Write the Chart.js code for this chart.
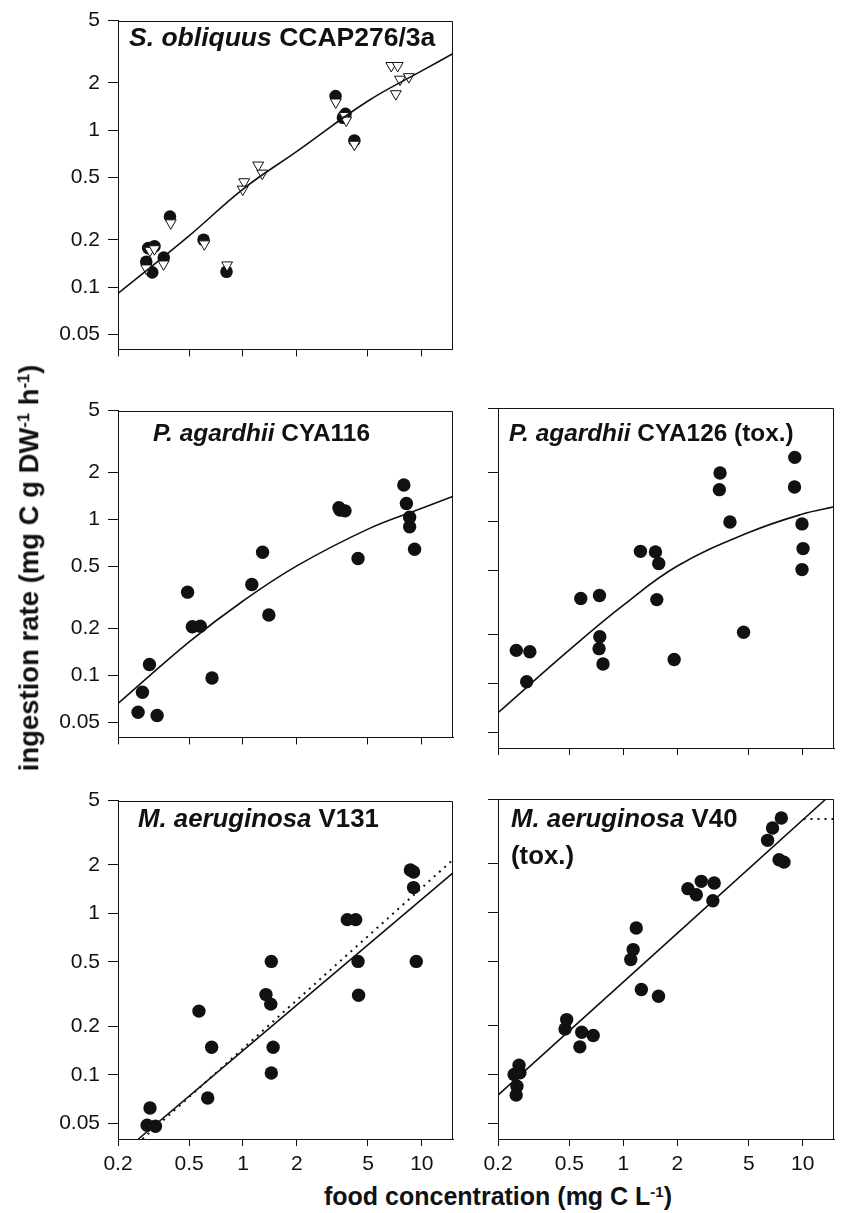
<!DOCTYPE html>
<html>
<head>
<meta charset="utf-8">
<script src="https://cdn.jsdelivr.net/npm/chart.js@4.4.1/dist/chart.umd.min.js"></script>
<style>
body{margin:0;background:#fff;width:841px;height:1213px;position:relative;overflow:hidden;font-family:'Liberation Sans',Arial,Helvetica,sans-serif;color:#111;}
.panel{position:absolute;}
.ttl{position:absolute;font-weight:bold;font-size:25px;line-height:1;white-space:nowrap;}
.axt{position:absolute;font-weight:bold;font-size:25px;line-height:1;white-space:nowrap;}
sup{font-size:0.6em;line-height:0;vertical-align:0.55em;}
</style>
</head>
<body>

<div class="panel" style="left:0px;top:0px"><canvas id="cSob" width="460" height="370"></canvas></div>
<div class="panel" style="left:0px;top:390px"><canvas id="cP116" width="460" height="368"></canvas></div>
<div class="panel" style="left:460px;top:390px"><canvas id="cP126" width="381" height="368"></canvas></div>
<div class="panel" style="left:0px;top:780px"><canvas id="cM131" width="460" height="400"></canvas></div>
<div class="panel" style="left:460px;top:780px"><canvas id="cM40" width="381" height="400"></canvas></div>

<div class="ttl" style="left:129px;top:24px;font-size:26.5px"><i>S. obliquus</i> CCAP276/3a</div>
<div class="ttl" style="left:153px;top:421px;font-size:24.4px"><i>P. agardhii</i> CYA116</div>
<div class="ttl" style="left:509px;top:421px;font-size:24.4px"><i>P. agardhii</i> CYA126 (tox.)</div>
<div class="ttl" style="left:138px;top:806px;font-size:25.8px"><i>M. aeruginosa</i> V131</div>
<div class="ttl" style="left:511px;top:806px;font-size:25.8px"><i>M. aeruginosa</i> V40</div>
<div class="ttl" style="left:511px;top:843px;font-size:25.8px">(tox.)</div>

<div class="axt" style="left:498px;top:1184px;transform:translateX(-50%)">food concentration (mg C L<sup>-1</sup>)</div>
<div class="axt" style="left:29px;top:568px;font-size:27.5px;transform:translate(-50%,-50%) rotate(-90deg)">ingestion rate (mg C g DW<sup>-1</sup> h<sup>-1</sup>)</div>

<script>
// axis ticks (log-log)
const xTicks = [0.2, 0.5, 1, 2, 5, 10];
const yTicks = [0.05, 0.1, 0.2, 0.5, 1, 2, 5];

// S. obliquus CCAP276/3a - circles and triangles
const sobCircX = [0.288, 0.311, 0.295, 0.320, 0.361, 0.391, 0.603, 0.811, 3.31, 3.76, 3.64, 4.22];
const sobCircY = [0.145, 0.124, 0.177, 0.182, 0.154, 0.281, 0.200, 0.125, 1.65, 1.27, 1.20, 0.86];
const sobTriX = [0.288, 0.302, 0.320, 0.360, 0.395, 0.609, 0.817, 1.018, 1.0, 1.22, 1.287, 3.32, 3.72, 3.80, 4.22, 6.79, 7.38, 7.20, 7.60, 8.52];
const sobTriY = [0.132, 0.171, 0.175, 0.140, 0.256, 0.188, 0.138, 0.468, 0.42, 0.598, 0.531, 1.51, 1.24, 1.157, 0.812, 2.58, 2.58, 1.705, 2.11, 2.19];
const sobFitX = [0.2, 0.5, 1, 2, 5, 10, 15];
const sobFitY = [0.091, 0.212, 0.42, 0.73, 1.53, 2.38, 3.07];

// P. agardhii CYA116
const p116X = [0.259, 0.274, 0.300, 0.331, 0.49, 0.521, 0.577, 0.671, 1.12, 1.287, 1.395, 3.44, 3.49, 3.72, 4.40, 7.93, 8.20, 8.55, 8.55, 9.11];
const p116Y = [0.058, 0.078, 0.1175, 0.0553, 0.342, 0.205, 0.207, 0.0962, 0.383, 0.617, 0.244, 1.19, 1.15, 1.137, 0.562, 1.667, 1.267, 1.035, 0.898, 0.644];
const p116FitX = [0.2, 0.5, 1, 2, 5, 10, 15];
const p116FitY = [0.066, 0.164, 0.30, 0.504, 0.868, 1.18, 1.41];

// P. agardhii CYA126 (tox.)
const p126X = [0.253, 0.301, 0.289, 0.579, 0.736, 0.739, 0.732, 0.77, 1.245, 1.51, 1.575, 1.536, 1.92, 3.46, 3.43, 3.93, 4.68, 9.03, 9.0, 9.91, 10.04, 9.91];
const p126Y = [0.160, 0.157, 0.1025, 0.334, 0.349, 0.194, 0.164, 0.132, 0.653, 0.648, 0.549, 0.329, 0.1406, 1.987, 1.568, 0.99, 0.207, 2.48, 1.63, 0.964, 0.679, 0.504];
const p126FitX = [0.2, 0.5, 1, 2, 5, 10, 15];
const p126FitY = [0.066, 0.161, 0.304, 0.530, 0.853, 1.11, 1.23];

// M. aeruginosa V131
const m131X = [0.302, 0.291, 0.324, 0.567, 0.668, 0.635, 1.344, 1.43, 1.44, 1.474, 1.44, 3.83, 4.27, 4.40, 4.43, 8.63, 8.99, 8.99, 9.31];
const m131Y = [0.0623, 0.0487, 0.048, 0.248, 0.148, 0.0718, 0.314, 0.274, 0.504, 0.148, 0.1025, 0.915, 0.915, 0.504, 0.311, 1.859, 1.806, 1.445, 0.504];
const m131FitX = [0.26, 15];
const m131FitY = [0.04, 1.79];
const m131DotX = [0.274, 15];
const m131DotY = [0.04, 2.16];

// M. aeruginosa V40 (tox.)
const m40X = [0.2526, 0.255, 0.246, 0.265, 0.262, 0.483, 0.473, 0.586, 0.572, 0.679, 1.18, 1.134, 1.10, 1.26, 1.57, 2.29, 2.55, 2.72, 3.21, 3.155, 6.37, 6.79, 7.60, 7.38, 7.86];
const m40Y = [0.0746, 0.0847, 0.100, 0.1025, 0.114, 0.218, 0.191, 0.182, 0.148, 0.174, 0.80, 0.589, 0.511, 0.334, 0.304, 1.40, 1.285, 1.553, 1.517, 1.18, 2.78, 3.31, 3.82, 2.11, 2.04];
const m40FitX = [0.2, 13.47];
const m40FitY = [0.0746, 5.0];
const m40DotX = [10.1, 15];
const m40DotY = [3.76, 3.76];

Chart.defaults.font.family = "'Liberation Sans', Arial, Helvetica, sans-serif";
Chart.defaults.color = '#111';

const pts = (xs, ys) => xs.map((x, i) => ({x: x, y: ys[i]}));
const dots = (xs, ys, r) => ({data: pts(xs, ys), showLine: false, pointRadius: r, pointBackgroundColor: '#111', pointBorderWidth: 0});
const tris = (xs, ys) => ({data: pts(xs, ys), showLine: false, pointStyle: 'triangle', pointRotation: 180, pointRadius: 6.3,
    pointBackgroundColor: '#fff', pointBorderColor: '#111', pointBorderWidth: 1});
const line = (xs, ys) => ({data: pts(xs, ys), showLine: true, borderColor: '#111', borderWidth: 1.6, pointRadius: 0, tension: 0.4});
const dotted = (xs, ys) => ({data: pts(xs, ys), showLine: true, borderColor: '#111', borderWidth: 2, borderDash: [2, 5], pointRadius: 0});

// box around the plot area (top + right sides)
const frame = {
    id: 'frame',
    afterDraw(chart){
        const a = chart.chartArea, ctx = chart.ctx;
        ctx.save();
        ctx.strokeStyle = '#111';
        ctx.lineWidth = 1;
        ctx.beginPath();
        ctx.moveTo(Math.round(a.left), Math.round(a.top) + 0.5);
        ctx.lineTo(Math.round(a.right) - 0.5, Math.round(a.top) + 0.5);
        ctx.lineTo(Math.round(a.right) - 0.5, Math.round(a.bottom));
        ctx.stroke();
        ctx.restore();
    }
};

function panel(id, datasets, cfg){
    return new Chart(document.getElementById(id), {
        type: 'scatter',
        data: {datasets: datasets},
        options: {
            responsive: false, animation: false, devicePixelRatio: 1,
            layout: {padding: {top: cfg.top, left: 0, right: 1, bottom: 0}},
            plugins: {legend: {display: false}, tooltip: {enabled: false}},
            scales: {
                x: {
                    type: 'logarithmic', min: 0.2, max: 15,
                    afterBuildTicks: s => { s.ticks = xTicks.map(v => ({value: v})); },
                    afterFit: s => { s.height = cfg.xh; },
                    ticks: {display: cfg.xLab, autoSkip: false, maxRotation: 0, padding: 6, font: {size: 21}, callback: v => String(v)},
                    grid: {drawOnChartArea: false, tickLength: 7, color: '#111'},
                    border: {color: '#111', width: 1}
                },
                y: {
                    type: 'logarithmic', min: 0.04, max: 5,
                    afterBuildTicks: s => { s.ticks = yTicks.map(v => ({value: v})); },
                    afterFit: s => { s.width = cfg.yw; },
                    ticks: {display: cfg.yLab, padding: 8, font: {size: 21}, callback: v => String(v)},
                    grid: {drawOnChartArea: false, tickLength: 10, color: '#111'},
                    border: {color: '#111', width: 1}
                }
            }
        },
        plugins: [frame]
    });
}

panel('cSob', [line(sobFitX, sobFitY), tris(sobTriX, sobTriY), dots(sobCircX, sobCircY, 6.3)],
    {top: 17, xh: 10, yw: 118, xLab: false, yLab: true});
panel('cP116', [line(p116FitX, p116FitY), dots(p116X, p116Y, 6.7)],
    {top: 18, xh: 10, yw: 118, xLab: false, yLab: true});
panel('cP126', [line(p126FitX, p126FitY), dots(p126X, p126Y, 6.7)],
    {top: 18, xh: 10, yw: 38, xLab: false, yLab: false});
panel('cM131', [line(m131FitX, m131FitY), dotted(m131DotX, m131DotY), dots(m131X, m131Y, 6.7)],
    {top: 19, xh: 41, yw: 118, xLab: true, yLab: true});
panel('cM40', [line(m40FitX, m40FitY), dotted(m40DotX, m40DotY), dots(m40X, m40Y, 6.7)],
    {top: 19, xh: 41, yw: 38, xLab: true, yLab: false});
</script>
</body>
</html>
